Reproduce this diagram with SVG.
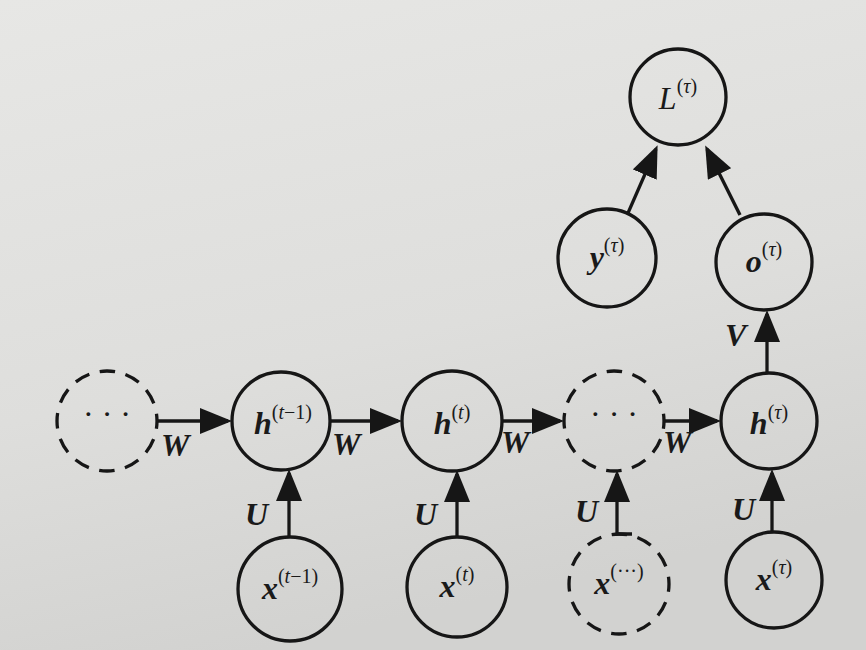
<svg xmlns="http://www.w3.org/2000/svg" width="866" height="650" viewBox="0 0 866 650">
<defs>
<linearGradient id="bg" x1="0" y1="0" x2="0.3" y2="1">
<stop offset="0" stop-color="#e7e7e5"/>
<stop offset="0.6" stop-color="#dededc"/>
<stop offset="1" stop-color="#d2d2d0"/>
</linearGradient>
<marker id="ah" viewBox="0 0 32 26" refX="28" refY="13" markerWidth="32" markerHeight="26" markerUnits="userSpaceOnUse" orient="auto">
<path d="M0,0 L32,13 L0,26 Z" fill="#161616"/>
</marker>
<style>
.n{fill:none;stroke:#161616;stroke-width:3.3}
.d{fill:none;stroke:#161616;stroke-width:3.3;stroke-dasharray:15.5 10.68;stroke-dashoffset:7.75}
.e{fill:none;stroke:#161616;stroke-width:3.3;marker-end:url(#ah)}
.t{font-family:"Liberation Serif","DejaVu Serif",serif;fill:#1a1a1a;font-size:32px}
.m{font-weight:bold;font-style:italic}
.s{font-size:20px;font-weight:normal;font-style:normal}
.i{font-style:italic}
.lab{font-family:"Liberation Serif","DejaVu Serif",serif;fill:#1a1a1a;font-size:32px;font-weight:bold;font-style:italic}
</style>
</defs>
<rect width="866" height="650" fill="url(#bg)"/>

<g id="connectors">
<line class="e" x1="157" y1="421" x2="228" y2="421"/>
<line class="e" x1="330" y1="421" x2="398" y2="421"/>
<line class="e" x1="502" y1="421" x2="560" y2="421"/>
<line class="e" x1="664" y1="421" x2="717" y2="421"/>
<line class="e" x1="289" y1="537" x2="289" y2="473"/>
<line class="e" x1="457" y1="537" x2="457" y2="474"/>
<polyline class="e" points="632,534 617,534 617,474"/>
<line class="e" x1="772" y1="532" x2="772" y2="473"/>
<line class="e" x1="767" y1="373" x2="767" y2="314"/>
<line class="e" x1="628" y1="213" x2="656" y2="149"/>
<line class="e" x1="740" y1="215" x2="707" y2="149"/>
<text class="lab" x="161" y="456">W</text>
<text class="lab" x="332" y="455">W</text>
<text class="lab" x="501" y="453">W</text>
<text class="lab" x="663" y="453">W</text>
<text class="lab" x="245" y="525">U</text>
<text class="lab" x="414" y="525">U</text>
<text class="lab" x="575" y="522">U</text>
<text class="lab" x="732" y="520">U</text>
<text class="lab" x="725" y="346">V</text>
</g>

<g id="dots1">
<circle class="d" cx="107" cy="421" r="50"/>
<text class="t" x="107" y="425" text-anchor="middle" font-size="22">· · ·</text>
</g>
<g id="h_tm1">
<circle class="n" cx="281" cy="421" r="49"/>
<text class="t" x="283" y="434" text-anchor="middle"><tspan class="m">h</tspan><tspan class="s" dy="-15">(</tspan><tspan class="s i">t</tspan><tspan class="s">−1)</tspan></text>
</g>
<g id="h_t">
<circle class="n" cx="452" cy="421" r="50"/>
<text class="t" x="452" y="434" text-anchor="middle"><tspan class="m">h</tspan><tspan class="s" dy="-15">(</tspan><tspan class="s i">t</tspan><tspan class="s">)</tspan></text>
</g>
<g id="dots2">
<circle class="d" cx="614" cy="421" r="50"/>
<text class="t" x="614" y="425" text-anchor="middle" font-size="22">· · ·</text>
</g>
<g id="h_tau">
<circle class="n" cx="769" cy="421" r="48"/>
<text class="t" x="769" y="434" text-anchor="middle"><tspan class="m">h</tspan><tspan class="s" dy="-15">(</tspan><tspan class="s i">τ</tspan><tspan class="s">)</tspan></text>
</g>
<g id="x_tm1">
<circle class="n" cx="290" cy="589" r="52"/>
<text class="t" x="290" y="599" text-anchor="middle"><tspan class="m">x</tspan><tspan class="s" dy="-16">(</tspan><tspan class="s i">t</tspan><tspan class="s">−1)</tspan></text>
</g>
<g id="x_t">
<circle class="n" cx="457" cy="587" r="50"/>
<text class="t" x="457" y="597" text-anchor="middle"><tspan class="m">x</tspan><tspan class="s" dy="-16">(</tspan><tspan class="s i">t</tspan><tspan class="s">)</tspan></text>
</g>
<g id="x_dots">
<circle class="d" cx="619" cy="584" r="50"/>
<text class="t" x="619" y="594" text-anchor="middle"><tspan class="m">x</tspan><tspan class="s" dy="-16">(···)</tspan></text>
</g>
<g id="x_tau">
<circle class="n" cx="774" cy="580" r="48"/>
<text class="t" x="774" y="590" text-anchor="middle"><tspan class="m">x</tspan><tspan class="s" dy="-16">(</tspan><tspan class="s i">τ</tspan><tspan class="s">)</tspan></text>
</g>
<g id="o_tau">
<circle class="n" cx="764" cy="262" r="48"/>
<text class="t" x="764" y="272" text-anchor="middle"><tspan class="m">o</tspan><tspan class="s" dy="-16">(</tspan><tspan class="s i">τ</tspan><tspan class="s">)</tspan></text>
</g>
<g id="y_tau">
<circle class="n" cx="607" cy="258" r="49"/>
<text class="t" x="607" y="268" text-anchor="middle"><tspan class="m">y</tspan><tspan class="s" dy="-16">(</tspan><tspan class="s i">τ</tspan><tspan class="s">)</tspan></text>
</g>
<g id="L_tau">
<circle class="n" cx="678" cy="97" r="48"/>
<text class="t" x="678" y="109" text-anchor="middle"><tspan class="i">L</tspan><tspan class="s" dy="-16">(</tspan><tspan class="s i">τ</tspan><tspan class="s">)</tspan></text>
</g>
</svg>
